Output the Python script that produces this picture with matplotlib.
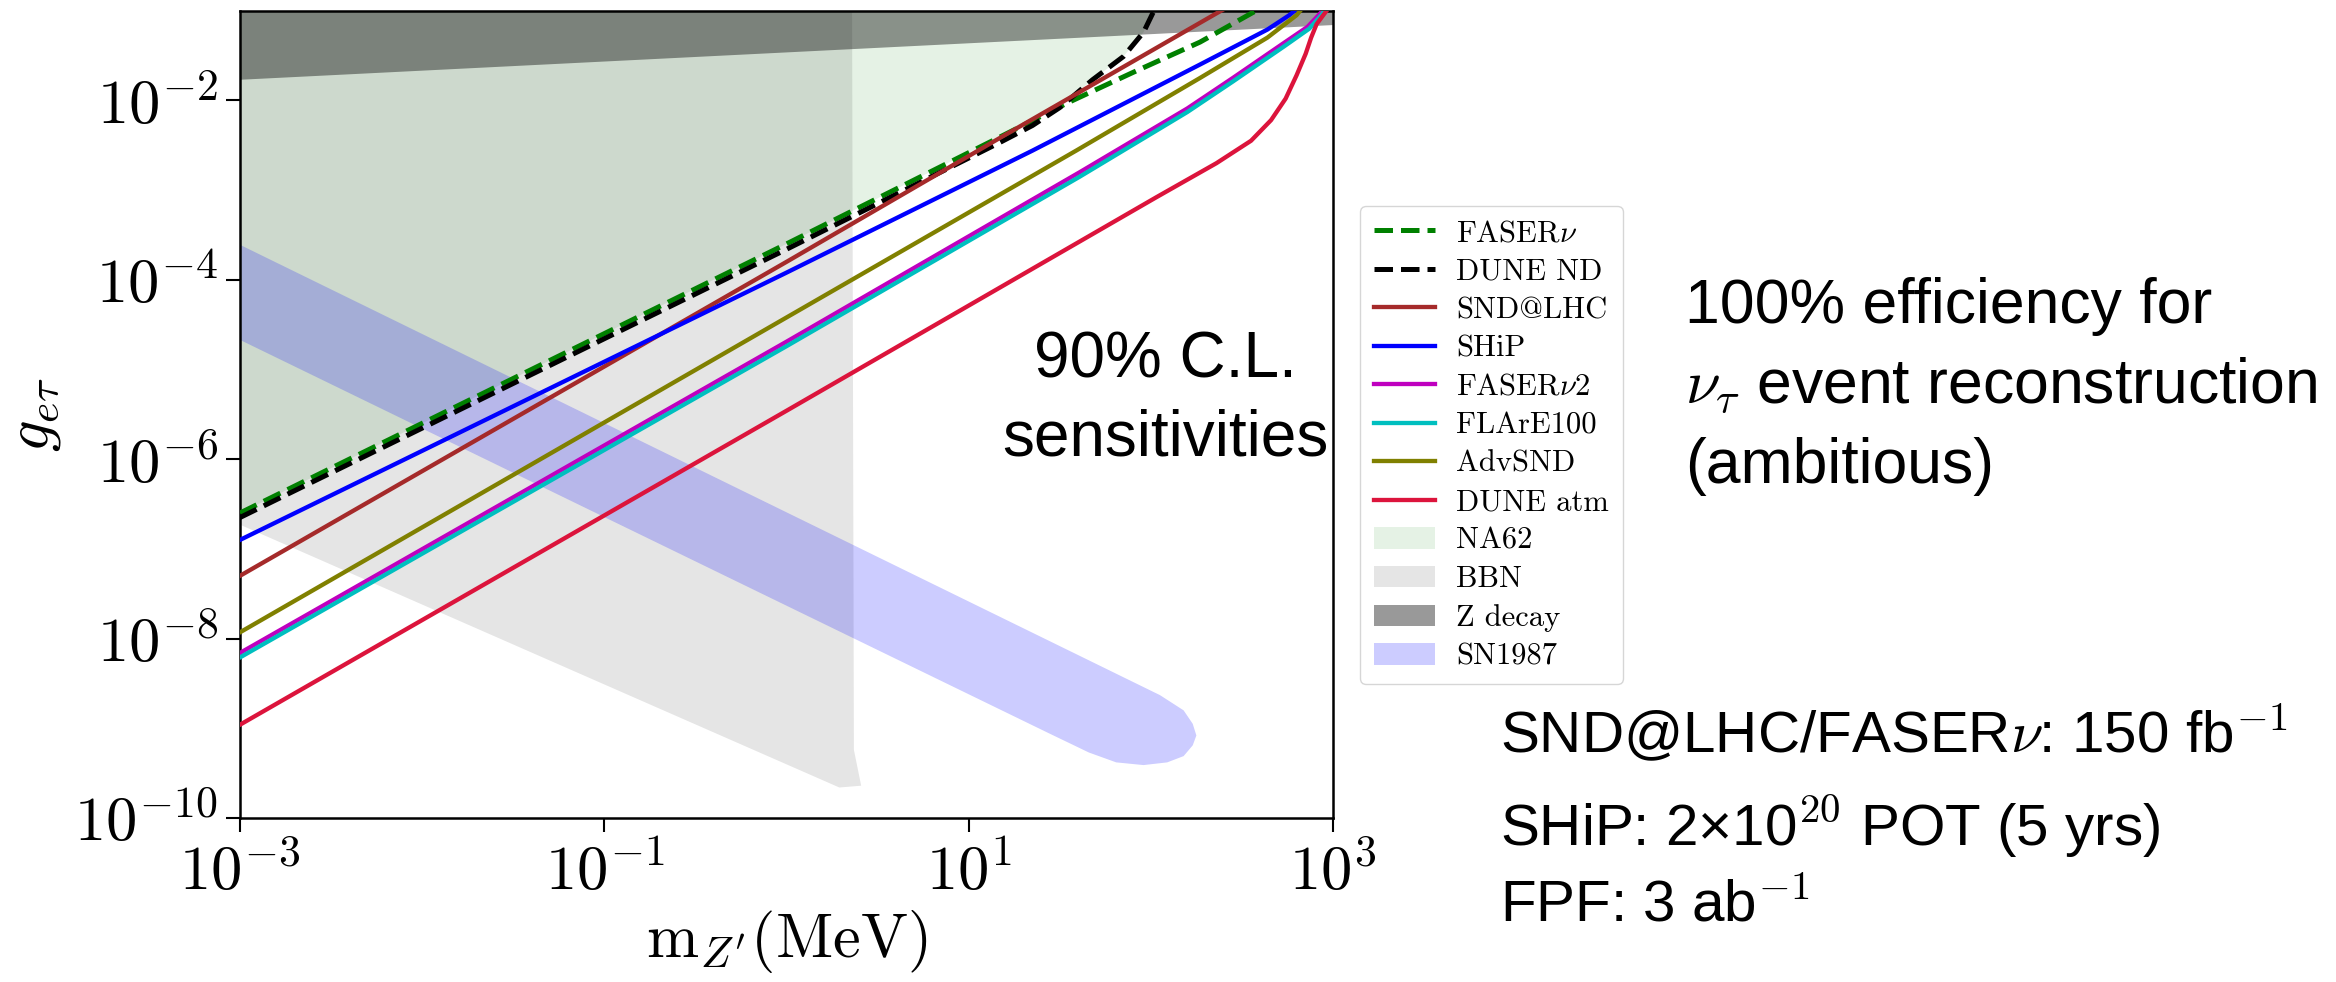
import numpy as np
import matplotlib
matplotlib.use("Agg")
import matplotlib.pyplot as plt
from matplotlib.patches import Patch
from matplotlib.lines import Line2D

plt.rcParams['mathtext.fontset'] = 'cm'
plt.rcParams['font.family'] = ['cmr10', 'DejaVu Serif']
plt.rcParams['axes.formatter.use_mathtext'] = True

# --- sensitivity curves: log10(m_Z' / MeV) and log10(g_etau) ---
faser_logm = [-3.0, 0.0, 1.17, 1.54, 1.90, 2.27, 2.56, 2.65]
faser_logg = [-6.60, -3.60, -2.41, -2.03, -1.69, -1.35, -1.02, -0.92]

dunend_logm = [-3.0, 0.0, 1.17, 1.35, 1.50, 1.68, 1.85, 1.96, 2.01, 2.05]
dunend_logg = [-6.65, -3.66, -2.47, -2.28, -2.08, -1.77, -1.51, -1.24, -1.03, -0.90]

snd_logm = [-3.0, 0.0, 1.17, 2.36, 2.50]
snd_logg = [-7.30, -3.80, -2.42, -1.03, -0.87]

ship_logm = [-3.0, 0.0, 1.35, 2.27, 2.64, 2.76, 2.82]
ship_logg = [-6.90, -3.92, -2.56, -1.60, -1.21, -1.05, -0.95]

faser2_logm = [-3.0, 0.0, 1.61, 2.20, 2.45, 2.73, 2.86, 2.93, 2.96]
faser2_logg = [-8.16, -4.69, -2.80, -2.09, -1.75, -1.36, -1.18, -1.03, -0.95]

flare_logm = [-3.0, 0.0, 1.61, 2.20, 2.45, 2.73, 2.87, 2.94, 2.97]
flare_logg = [-8.21, -4.74, -2.85, -2.13, -1.79, -1.40, -1.20, -1.04, -0.95]

advsnd_logm = [-3.0, 0.0, 1.59, 2.27, 2.64, 2.80, 2.84]
advsnd_logg = [-7.93, -4.42, -2.56, -1.75, -1.30, -1.05, -0.95]

duneatm_logm = [-3.0, 0.0, 2.03, 2.36, 2.55, 2.66, 2.74, 2.80, 2.85, 2.88, 2.91, 2.95, 2.98]
duneatm_logg = [-8.96, -5.46, -3.08, -2.70, -2.45, -2.22, -1.98, -1.72, -1.48, -1.30, -1.15, -1.04, -0.96]

# --- excluded regions ---
na62_logm = [-3.0, 0.0, 1.17, 1.50, 1.68, 1.85, 1.96, 2.01, 2.03, -3.0]
na62_logg = [-6.60, -3.60, -2.41, -2.07, -1.77, -1.51, -1.24, -1.03, -1.0, -1.0]

bbn_logm = [-3.0, 0.36, 0.37, 0.41, 0.29, -3.0]
bbn_logg = [-1.0, -1.0, -9.24, -9.64, -9.66, -6.73]

zdecay_logm = [-3.0, 3.0, 3.0, -3.0]
zdecay_logg = [-1.77, -1.16, -1.0, -1.0]

sn_logm = [-3.0, 2.05, 2.18, 2.23, 2.25, 2.23, 2.18, 2.09, 1.96, 1.81, 1.66, 1.445, -3.0]
sn_logg = [-3.61, -8.63, -8.80, -8.95, -9.08, -9.19, -9.31, -9.38, -9.41, -9.38, -9.27, -9.06, -4.67]

curves = [
    ("FASER$\\nu$", faser_logm, faser_logg, "green", "--"),
    ("DUNE ND", dunend_logm, dunend_logg, "black", "--"),
    ("SND@LHC", snd_logm, snd_logg, "brown", "-"),
    ("SHiP", ship_logm, ship_logg, "blue", "-"),
    ("FASER$\\nu$2", faser2_logm, faser2_logg, "m", "-"),
    ("FLArE100", flare_logm, flare_logg, "c", "-"),
    ("AdvSND", advsnd_logm, advsnd_logg, "olive", "-"),
    ("DUNE atm", duneatm_logm, duneatm_logg, "crimson", "-"),
]
regions = [
    ("NA62", na62_logm, na62_logg, "green", 0.1),
    ("BBN", bbn_logm, bbn_logg, "black", 0.1),
    ("Z decay", zdecay_logm, zdecay_logg, "black", 0.4),
    ("SN1987", sn_logm, sn_logg, "blue", 0.2),
]

W, H = 2336, 982
fig = plt.figure(figsize=(W / 100, H / 100), dpi=100)
ax = fig.add_axes([240 / W, 1 - 818 / H, 1093 / W, 807.3 / H])
ax.set_xscale('log')
ax.set_yscale('log')

handles = []
for label, lm, lg, col, ls in curves:
    lw = 3.6 if ls == "--" else 3.1
    ax.plot(10 ** np.array(lm), 10 ** np.array(lg), color=col, ls=ls, lw=lw, zorder=3)
    handles.append(Line2D([], [], color=col, ls=ls, lw=lw, label=label))

for label, lm, lg, col, a in regions:
    ax.fill(10 ** np.array(lm), 10 ** np.array(lg), color=col, alpha=a, lw=0, zorder=1)
    handles.append(Patch(facecolor=col, alpha=a, lw=0, label=label))

ax.set_xlim(1e-3, 1e3)
ax.set_ylim(1e-10, 1e-1)
ax.set_xticks([1e-3, 1e-1, 1e1, 1e3], [r'$10^{-3}$', r'$10^{-1}$', r'$10^{1}$', r'$10^{3}$'])
ax.set_yticks([1e-10, 1e-8, 1e-6, 1e-4, 1e-2],
              [r'$10^{-10}$', r'$10^{-8}$', r'$10^{-6}$', r'$10^{-4}$', r'$10^{-2}$'])
ax.minorticks_off()
ax.tick_params(labelsize=45, length=10, width=1.5, direction='out')
ax.tick_params(axis='y', pad=6)
ax.tick_params(axis='x', pad=8)
for sp in ax.spines.values():
    sp.set_linewidth(1.8)

ax.set_xlabel(r"$\mathrm{m}_{Z^{\prime}}(\mathrm{MeV})$", fontsize=45, labelpad=4)
ax.set_ylabel(r"$g_{e\tau}$", fontsize=45, labelpad=8)

fig.legend(handles=handles, loc='upper left', bbox_to_anchor=(1360 / W, 1 - 206 / H),
           borderaxespad=0, fontsize=22, labelspacing=0.36, handlelength=2.0,
           handletextpad=0.7, borderpad=0.45, frameon=True, edgecolor='0.8', fancybox=True)

sans = dict(family=['Liberation Sans', 'DejaVu Sans'], color='black')
fig.text(1165 / W, 1 - 378 / H, "90% C.L.", ha='center', va='baseline', fontsize=46, **sans)
fig.text(1165 / W, 1 - 455 / H, "sensitivities", ha='center', va='baseline', fontsize=46, **sans)

fig.text(1685 / W, 1 - 323 / H, "100% efficiency for", ha='left', va='baseline', fontsize=45, **sans)
fig.text(1685 / W, 1 - 402 / H, r"$\nu_\tau$ event reconstruction", ha='left', va='baseline', fontsize=45, **sans)
fig.text(1685 / W, 1 - 483 / H, "(ambitious)", ha='left', va='baseline', fontsize=45, **sans)

fig.text(1500 / W, 1 - 753 / H, r"SND@LHC/FASER$\nu$: 150 fb$^{\mathsf{-1}}$", ha='left', va='baseline', fontsize=42, **sans)
fig.text(1500 / W, 1 - 845 / H, r"SHiP: 2×10$^{\mathsf{20}}$ POT (5 yrs)", ha='left', va='baseline', fontsize=42, **sans)
fig.text(1500 / W, 1 - 922 / H, r"FPF: 3 ab$^{\mathsf{-1}}$", ha='left', va='baseline', fontsize=42, **sans)

fig.savefig("out.png", dpi=100)
